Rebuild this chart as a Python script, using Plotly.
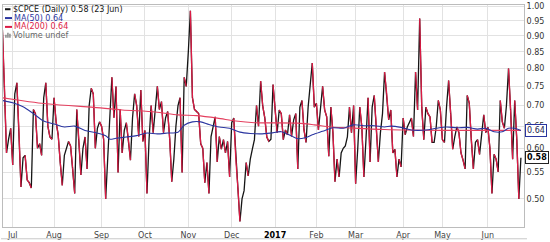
import math
import pandas as pd
import plotly.graph_objects as go

# ---------------- data ----------------
HOLIDAYS = ["2016-07-04", "2016-09-05", "2016-11-24", "2016-12-26", "2017-01-02",
            "2017-01-16", "2017-02-20", "2017-04-14", "2017-05-29"]

CPCE = [
    0.92, 0.75, 0.59, 0.62, 0.645, 0.565, 0.73, 0.76, 0.64, 0.522,
    0.58, 0.585, 0.535, 0.53, 0.52, 0.69, 0.68, 0.60, 0.61, 0.585,
    0.72, 0.76, 0.65, 0.625, 0.62, 0.72, 0.66, 0.63, 0.57, 0.525,
    0.585, 0.60, 0.615, 0.605, 0.56, 0.51, 0.69, 0.62, 0.545, 0.60,
    0.625, 0.557, 0.70, 0.745, 0.73, 0.60, 0.645, 0.66, 0.65, 0.62,
    0.50, 0.58, 0.68, 0.775, 0.67, 0.75, 0.55, 0.69, 0.59, 0.64,
    0.658, 0.62, 0.575, 0.67, 0.73, 0.70, 0.626, 0.74, 0.615, 0.64,
    0.51, 0.62, 0.70, 0.635, 0.70, 0.75, 0.69, 0.71, 0.635, 0.67,
    0.685, 0.62, 0.532, 0.577, 0.65, 0.70, 0.72, 0.55, 0.775, 0.75,
    0.85, 0.985, 0.72, 0.69, 0.685, 0.68, 0.61, 0.60, 0.53, 0.57,
    0.51, 0.626, 0.648, 0.672, 0.571, 0.626, 0.598, 0.619, 0.59, 0.615,
    0.541, 0.658, 0.669, 0.577, 0.52, 0.461, 0.50, 0.515, 0.57, 0.543,
    0.577, 0.598, 0.619, 0.70, 0.65, 0.765, 0.70, 0.67, 0.625, 0.615,
    0.62, 0.755, 0.69, 0.635, 0.689, 0.68, 0.619, 0.641, 0.63, 0.677,
    0.626, 0.665, 0.68, 0.557, 0.696, 0.713, 0.641, 0.613, 0.696, 0.75,
    0.816, 0.696, 0.706, 0.641, 0.689, 0.75, 0.689, 0.672, 0.583, 0.696,
    0.635, 0.532, 0.577, 0.541, 0.59, 0.60, 0.605, 0.625, 0.696, 0.635,
    0.70, 0.528, 0.598, 0.696, 0.648, 0.541, 0.619, 0.72, 0.571, 0.696,
    0.726, 0.648, 0.571, 0.635, 0.68, 0.79, 0.732, 0.665, 0.689, 0.59,
    0.598, 0.541, 0.577, 0.561, 0.669, 0.63, 0.648, 0.658, 0.669, 0.626,
    0.79, 0.689, 0.958, 0.696, 0.619, 0.696, 0.68, 0.672, 0.613, 0.613,
    0.648, 0.713, 0.689, 0.619, 0.613, 0.696, 0.766, 0.68, 0.598, 0.626,
    0.648, 0.635, 0.59, 0.575, 0.557, 0.726, 0.706, 0.619, 0.557, 0.613,
    0.619, 0.587, 0.635, 0.677, 0.635, 0.648, 0.60, 0.51, 0.587, 0.577,
    0.551, 0.713, 0.66, 0.645, 0.70, 0.80, 0.69, 0.577, 0.713, 0.62, 0.50, 0.58,
]

MA50_IDX = [0, 5, 10, 15, 20, 25, 30, 35, 40, 45, 50, 52, 55, 60, 65, 70, 75, 80, 85, 88,
            92, 96, 100, 105, 110, 115, 120, 125, 130, 135, 140, 143, 147, 150, 155, 160,
            165, 170, 175, 180, 185, 188, 193, 198, 205, 210, 215, 220, 225, 230, 234,
            238, 242, 245, 248, 251]
MA50_VAL = [0.713, 0.707, 0.697, 0.68, 0.662, 0.655, 0.648, 0.65, 0.64, 0.635, 0.628, 0.62,
            0.622, 0.625, 0.628, 0.634, 0.632, 0.634, 0.636, 0.652, 0.66, 0.66, 0.654, 0.648,
            0.645, 0.636, 0.633, 0.632, 0.634, 0.637, 0.627, 0.621, 0.624, 0.63, 0.638, 0.646,
            0.645, 0.653, 0.651, 0.651, 0.648, 0.65, 0.647, 0.641, 0.641, 0.645, 0.648, 0.646,
            0.647, 0.643, 0.645, 0.637, 0.637, 0.645, 0.645, 0.64]
MA200_IDX = [0, 9, 19, 32, 43, 58, 74, 85, 94, 104, 113, 122, 143, 151, 159, 167, 185, 213, 251]
MA200_VAL = [0.72, 0.713, 0.706, 0.70, 0.696, 0.689, 0.684, 0.677, 0.675, 0.669, 0.662, 0.658,
             0.657, 0.653, 0.648, 0.646, 0.642, 0.64, 0.64]

MONTH_TICKS = ["2016-07-01", "2016-08-01", "2016-09-01", "2016-10-03", "2016-11-01", "2016-12-01",
               "2017-01-03", "2017-02-01", "2017-03-01", "2017-04-03", "2017-05-01", "2017-06-01"]
MONTH_TEXT = ["Jul", "Aug", "Sep", "Oct", "Nov", "Dec",
              "<b><span style='color:#000'>2017</span></b>", "Feb", "Mar", "Apr", "May", "Jun"]
Y_TICKS = [0.50, 0.55, 0.60, 0.65, 0.70, 0.75, 0.80, 0.85, 0.90, 0.95, 1.00]

LAST_VAL = 0.58
MA_LAST = 0.64

# ---------------- figure ----------------
dates = pd.bdate_range("2016-06-24", "2017-06-23")
dates = dates[~dates.isin(pd.to_datetime(HOLIDAYS))]
dstr = [d.strftime("%Y-%m-%d") for d in dates]

W, H = 550, 242
L, R, T, B = 2, 26, 3, 13
PW, PH = W - L - R, H - T - B
Y_LO, Y_HI = -0.3451, 0.0026

def px(x):
    return (x - L) / PW

def py(y):
    return (H - B - y) / PH

def yval(v):
    return (math.log10(v) - Y_LO) / (Y_HI - Y_LO)

BLACK = "#151515"
RED = "#dc1a44"
BLUE = "#2a35a0"
RED_MA = "#e4405f"

fig = go.Figure()
fig.add_trace(go.Scatter(x=dstr, y=CPCE, mode="lines",
                         line=dict(color=BLACK, width=1.3), hoverinfo="skip"))
rx, ry = [], []
for i in range(len(CPCE) - 1):
    if CPCE[i + 1] < CPCE[i]:
        rx += [dstr[i], dstr[i + 1], None]
        ry += [CPCE[i], CPCE[i + 1], None]
fig.add_trace(go.Scatter(x=rx, y=ry, mode="lines", connectgaps=False,
                         line=dict(color=RED, width=1.3), hoverinfo="skip"))
fig.add_trace(go.Scatter(x=[dstr[i] for i in MA200_IDX], y=MA200_VAL, mode="lines",
                         line=dict(color=RED_MA, width=1.1, shape="spline", smoothing=0.8)))
fig.add_trace(go.Scatter(x=[dstr[i] for i in MA50_IDX], y=MA50_VAL, mode="lines",
                         line=dict(color=BLUE, width=1.1, shape="spline", smoothing=0.8)))

FONT = "DejaVu Sans"
fig.update_layout(
    width=W, height=H, margin=dict(l=L, r=R, t=T, b=B, pad=0),
    paper_bgcolor="white", plot_bgcolor="white", showlegend=False,
    xaxis=dict(type="date", range=["2016-06-24 07:00", "2017-06-26 12:00"],
               rangebreaks=[dict(bounds=["sat", "mon"]), dict(values=HOLIDAYS)],
               tickvals=MONTH_TICKS, ticktext=MONTH_TEXT, ticks="",
               showgrid=True, gridcolor="#e2e2e2", gridwidth=1,
               showline=True, linecolor="#bcbcbc", linewidth=1, mirror=True,
               zeroline=False, tickfont=dict(family=FONT, size=8, color="#444")),
    yaxis=dict(type="log", range=[Y_LO, Y_HI], side="right",
               tickvals=Y_TICKS, ticktext=[f"{v:.2f}" for v in Y_TICKS], ticks="",
               showgrid=True, gridcolor="#e2e2e2", gridwidth=1,
               showline=True, linecolor="#bcbcbc", linewidth=1, mirror=True,
               zeroline=False, tickfont=dict(family=FONT, size=8, color="#333")),
)

# legend text
legend = [
    ("$CPCE (Daily) 0.58 (23 Jun)", BLACK, 11, 7.3),
    ("MA(50) 0.64", BLUE, 12.5, 16.3),
    ("MA(200) 0.64", RED, 12.5, 25.3),
    ("Volume undef", "#666", 11.5, 34.3),
]
for txt, col, x, y in legend:
    fig.add_annotation(text=txt, xref="paper", yref="paper", x=px(x), y=py(y),
                       xanchor="left", yanchor="middle", showarrow=False, borderpad=0,
                       font=dict(family=FONT, size=8, color=col))
for col, y, x1 in [(BLACK, 7.3, 9.5), (BLUE, 16.3, 11), (RED, 25.3, 11)]:
    fig.add_shape(type="line", xref="paper", yref="paper", x0=px(4), x1=px(x1),
                  y0=py(y), y1=py(y), line=dict(color=col, width=2))
for x0, h in [(4.3, 3), (6.3, 5), (8.3, 4)]:
    fig.add_shape(type="rect", xref="paper", yref="paper", x0=px(x0), x1=px(x0 + 1.3),
                  y0=py(36.3), y1=py(36.3 - h), line=dict(width=0), fillcolor="#777")

# right-edge value boxes
fig.add_annotation(text="0.64", xref="paper", yref="paper", x=1.0, y=yval(MA_LAST),
                   xanchor="left", yanchor="middle", xshift=1, showarrow=False,
                   font=dict(family=FONT, size=8, color="#1c1c50"),
                   bgcolor="white", bordercolor=BLUE, borderwidth=1, borderpad=1)
fig.add_annotation(text="<b>0.58</b>", xref="paper", yref="paper", x=1.0, y=yval(LAST_VAL),
                   xanchor="left", yanchor="middle", xshift=1, showarrow=False,
                   font=dict(family=FONT, size=8, color="#000"),
                   bgcolor="white", bordercolor="#222", borderwidth=1, borderpad=1)

# bottom frame line
fig.add_shape(type="line", xref="paper", yref="paper", x0=px(0), x1=px(527),
              y0=py(241), y1=py(241), line=dict(color="#c8c8c8", width=1))

fig.write_html("out.html")
